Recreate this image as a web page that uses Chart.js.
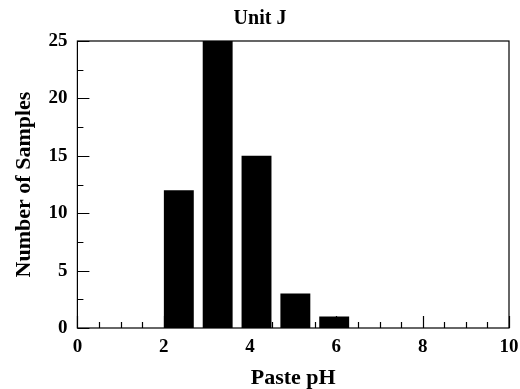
<!DOCTYPE html>
<html>
<head>
<meta charset="utf-8">
<script src="https://cdn.jsdelivr.net/npm/chart.js@4"></script>
<style>
  html, body { margin: 0; padding: 0; background: #fff; }
  #wrap { width: 520px; height: 389px; }
</style>
</head>
<body>
<div id="wrap"><canvas id="chart" width="520" height="389"></canvas></div>
<script>
// bar centres (paste pH) and counts
const binCentres = [2.35, 3.25, 4.15, 5.05, 5.95]
const sampleCounts = [12, 25, 15, 3, 1]
const xTickValues = [0, 2, 4, 6, 8, 10]
const yTickValues = [0, 5, 10, 15, 20, 25]

const serif = "'Liberation Serif', 'Times New Roman', serif"

// ticks drawn inward, plus the full frame
const innerTicks = {
  id: 'innerTicks',
  afterDraw (chart) {
    const { ctx, chartArea: a, scales: { x, y } } = chart
    ctx.save()
    ctx.strokeStyle = '#000'
    ctx.lineWidth = 1.2
    ctx.strokeRect(a.left, a.top, a.right - a.left, a.bottom - a.top)
    ctx.beginPath()
    for (let v = x.min; v <= x.max; v += 0.5) {
      const px = Math.round(x.getPixelForValue(v)) + 0.5
      const len = v % 2 === 0 ? 12 : 6
      ctx.moveTo(px, a.bottom)
      ctx.lineTo(px, a.bottom - len)
    }
    for (let v = y.min; v <= y.max; v += 2.5) {
      const py = Math.round(y.getPixelForValue(v)) + 0.5
      const len = v % 5 === 0 ? 12 : 6
      ctx.moveTo(a.left, py)
      ctx.lineTo(a.left + len, py)
    }
    ctx.stroke()
    ctx.restore()
  }
}

new Chart(document.getElementById('chart'), {
  type: 'bar',
  data: {
    datasets: [{
      label: 'Unit J',
      data: binCentres.map((c, i) => ({ x: c, y: sampleCounts[i] })),
      backgroundColor: '#000',
      borderWidth: 0,
      barPercentage: 0.77,
      categoryPercentage: 1
    }]
  },
  options: {
    responsive: false,
    animation: false,
    layout: { padding: { left: 11, right: 11, top: 0, bottom: 0 } },
    scales: {
      x: {
        type: 'linear',
        min: 0,
        max: 10,
        offset: false,
        afterBuildTicks: s => { s.ticks = xTickValues.map(v => ({ value: v })) },
        afterFit: s => { s.paddingRight = 0 },
        grid: { display: false, drawTicks: false },
        border: { display: false },
        ticks: { color: '#000', padding: 10, font: { family: serif, size: 19, weight: 'bold', lineHeight: 1 } },
        title: { display: true, text: 'Paste pH', color: '#000', padding: { top: 0, bottom: 0 }, font: { family: serif, size: 22, weight: 'bold', lineHeight: 1 } }
      },
      y: {
        min: 0,
        max: 25,
        afterBuildTicks: s => { s.ticks = yTickValues.map(v => ({ value: v })) },
        grid: { display: false, drawTicks: false },
        border: { display: false },
        ticks: { color: '#000', padding: 10, font: { family: serif, size: 19, weight: 'bold' } },
        title: { display: true, text: 'Number of Samples', color: '#000', padding: { top: 0, bottom: 1 }, font: { family: serif, size: 22, weight: 'bold' } }
      }
    },
    plugins: {
      legend: { display: false },
      tooltip: { enabled: false },
      title: {
        display: true,
        text: 'Unit J',
        color: '#000',
        padding: { top: 7, bottom: 10 },
        font: { family: serif, size: 20, weight: 'bold' }
      }
    }
  },
  plugins: [innerTicks]
})
</script>
</body>
</html>
